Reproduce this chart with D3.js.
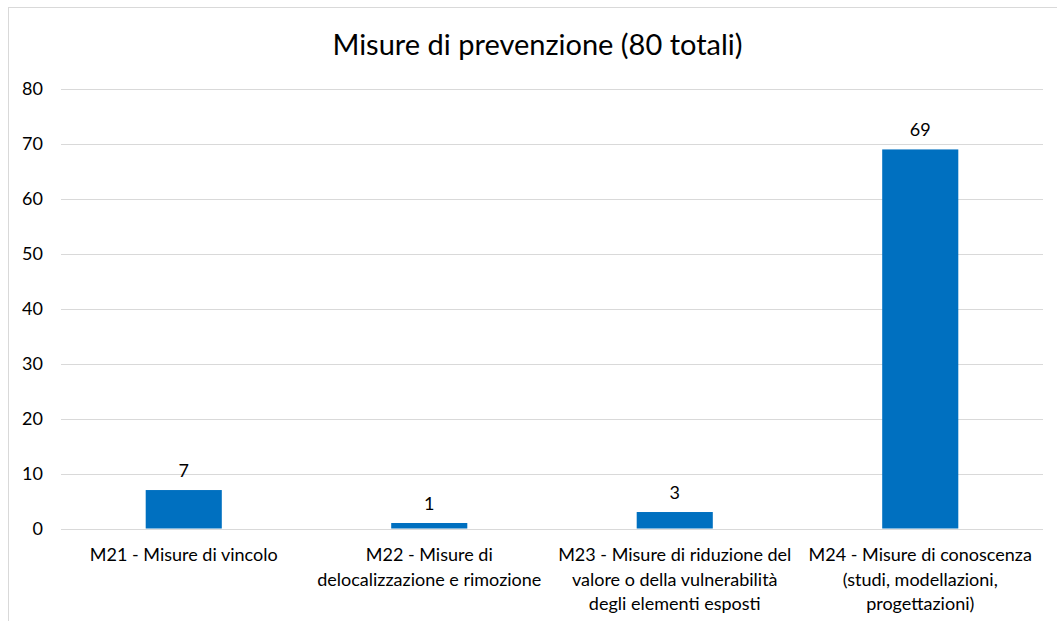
<!DOCTYPE html>
<html>
<head>
<meta charset="utf-8">
<script src="https://cdn.jsdelivr.net/npm/d3@7"></script>
<style>
  body { margin: 0; background: #fff; }
  svg text { font-family: Lato, "Open Sans", sans-serif; fill: #000; }
</style>
</head>
<body>
<div id="chart"></div>
<script>
// data
const categories = [
  ["M21 - Misure di vincolo"],
  ["M22 - Misure di", "delocalizzazione e rimozione"],
  ["M23 - Misure di riduzione del", "valore o della vulnerabilità", "degli elementi esposti"],
  ["M24 - Misure di conoscenza", "(studi, modellazioni,", "progettazioni)"]
];
const values = [7, 1, 3, 69];
const yTicks = [0, 10, 20, 30, 40, 50, 60, 70, 80];
const title = "Misure di prevenzione (80 totali)";

const width = 1057;
const height = 621;
const margin = { top: 89, bottom: 92.5, left: 61, right: 14 };

const svg = d3.select('#chart')
  .append('svg')
  .attr('width', width)
  .attr('height', height);

// chart frame
svg.append('rect')
  .attr('x', 8.5)
  .attr('y', 7.5)
  .attr('width', width + 20)
  .attr('height', height + 20)
  .attr('fill', 'none')
  .attr('stroke', '#d9d9d9');

const x = d3.scaleBand()
  .domain(d3.range(values.length))
  .range([margin.left, width - margin.right])
  .padding(0);

const y = d3.scaleLinear()
  .domain([0, 80])
  .range([height - margin.bottom, margin.top]);

const barW = x.bandwidth() * 0.31;

// gridlines
svg.append('g')
  .selectAll('line')
  .data(yTicks)
  .join('line')
  .attr('x1', margin.left)
  .attr('x2', width - margin.right)
  .attr('y1', d => Math.round(y(d)) + 0.5)
  .attr('y2', d => Math.round(y(d)) + 0.5)
  .attr('stroke', '#d9d9d9')
  .attr('stroke-width', 1);

// y tick labels
svg.append('g')
  .selectAll('text')
  .data(yTicks)
  .join('text')
  .attr('x', 43)
  .attr('y', d => y(d))
  .attr('dy', '0.36em')
  .attr('text-anchor', 'end')
  .attr('font-size', '18px')
  .text(d => d);

// bars
svg.append('g')
  .selectAll('rect')
  .data(values)
  .join('rect')
  .attr('x', (d, i) => x(i) + (x.bandwidth() - barW) / 2)
  .attr('y', d => y(d))
  .attr('width', barW)
  .attr('height', d => y(0) - y(d))
  .attr('fill', '#0070c0');

// value labels
svg.append('g')
  .selectAll('text')
  .data(values)
  .join('text')
  .attr('x', (d, i) => x(i) + x.bandwidth() / 2)
  .attr('y', d => y(d) - 13)
  .attr('text-anchor', 'middle')
  .attr('font-size', '18px')
  .text(d => d);

// category labels
const catG = svg.append('g')
  .selectAll('text')
  .data(categories)
  .join('text')
  .attr('x', (d, i) => x(i) + x.bandwidth() / 2)
  .attr('y', 561)
  .attr('text-anchor', 'middle')
  .attr('font-size', '18px');

catG.selectAll('tspan')
  .data(d => d)
  .join('tspan')
  .attr('x', function() { return this.parentNode.getAttribute('x'); })
  .attr('dy', (d, i) => i === 0 ? 0 : 24.5)
  .text(d => d);

// title
svg.append('text')
  .attr('x', 537.5)
  .attr('y', 55)
  .attr('text-anchor', 'middle')
  .attr('font-size', '29px')
  .text(title);
</script>
</body>
</html>
